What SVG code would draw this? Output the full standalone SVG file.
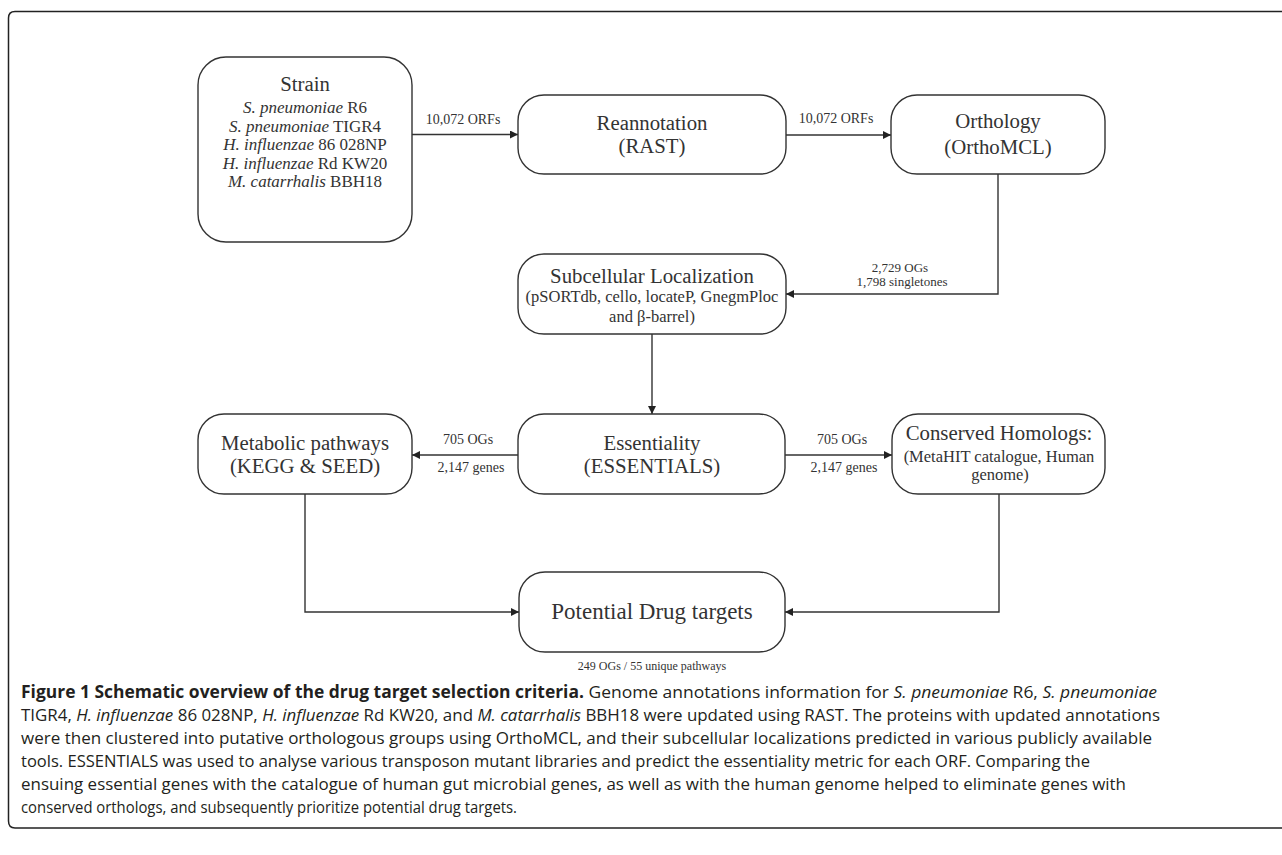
<svg xmlns="http://www.w3.org/2000/svg" width="1282" height="855" viewBox="0 0 1282 855">
<defs>
<style>
.box{fill:#fff;stroke:#333;stroke-width:1.4}
.t{font-family:"Liberation Serif","Times New Roman",serif;fill:#333;text-anchor:middle}
.h{font-size:20.8px}
.s{font-size:16.5px}
.st{font-size:17px}
.l{font-size:14px}
.lo{font-size:13px}
.sm{font-size:12px}
.c{stroke:#333;stroke-width:1.4;fill:none}
.cap{font-family:"Open Sans","Noto Sans","Liberation Sans",sans-serif;font-size:17px;fill:#231f20}
</style>
<marker id="ah" viewBox="0 0 10 10" refX="10" refY="5" markerWidth="8" markerHeight="8" markerUnits="userSpaceOnUse" orient="auto">
<path d="M0,0 L10,5 L0,10 z" fill="#222"/>
</marker>
</defs>
<rect width="1282" height="855" fill="#fff"/>
<path d="M1290 11.5 H15 Q8.5 11.5 8.5 18 V821 Q8.5 828 15 828 H1290" fill="none" stroke="#222" stroke-width="1.5"/>

<g id="connectors">
<line class="c" x1="412" y1="134.5" x2="518" y2="134.5" marker-end="url(#ah)"/>
<line class="c" x1="786" y1="135" x2="891" y2="135" marker-end="url(#ah)"/>
<polyline class="c" points="998,174 998,294 786,294" marker-end="url(#ah)"/>
<line class="c" x1="652" y1="334" x2="652" y2="414" marker-end="url(#ah)"/>
<line class="c" x1="518" y1="455" x2="412" y2="455" marker-end="url(#ah)"/>
<line class="c" x1="785" y1="455" x2="892" y2="455" marker-end="url(#ah)"/>
<polyline class="c" points="305,494 305,612 519,612" marker-end="url(#ah)"/>
<polyline class="c" points="999,494 999,612 785,612" marker-end="url(#ah)"/>
<text class="t l" x="463" y="124">10,072 ORFs</text>
<text class="t l" x="836" y="123">10,072 ORFs</text>
<text class="t lo" x="900" y="272">2,729 OGs</text>
<text class="t lo" x="902" y="286">1,798 singletones</text>
<text class="t l" x="468" y="444">705 OGs</text>
<text class="t l" x="471" y="472">2,147 genes</text>
<text class="t l" x="842" y="444">705 OGs</text>
<text class="t l" x="844" y="472">2,147 genes</text>
</g>

<g id="strain">
<rect class="box" x="198" y="57" width="214" height="185" rx="28"/>
<text class="t h" x="305" y="91">Strain</text>
<text class="t st" x="305" y="113"><tspan font-style="italic">S. pneumoniae</tspan> R6</text>
<text class="t st" x="305" y="131.5"><tspan font-style="italic">S. pneumoniae</tspan> TIGR4</text>
<text class="t st" x="305" y="150"><tspan font-style="italic">H. influenzae</tspan> 86 028NP</text>
<text class="t st" x="305" y="168.5"><tspan font-style="italic">H. influenzae</tspan> Rd KW20</text>
<text class="t st" x="305" y="187"><tspan font-style="italic">M. catarrhalis</tspan> BBH18</text>
</g>

<g id="reannotation">
<rect class="box" x="518" y="95" width="268" height="79" rx="26"/>
<text class="t h" x="652" y="130">Reannotation</text>
<text class="t h" x="652" y="153">(RAST)</text>
</g>

<g id="orthology">
<rect class="box" x="891" y="95" width="214" height="79" rx="26"/>
<text class="t h" x="998" y="128">Orthology</text>
<text class="t h" x="998" y="154">(OrthoMCL)</text>
</g>

<g id="subcellular">
<rect class="box" x="518" y="254" width="268" height="80" rx="26"/>
<text class="t h" x="652" y="283">Subcellular Localization</text>
<text class="t s" x="652" y="302">(pSORTdb, cello, locateP, GnegmPloc</text>
<text class="t s" x="652" y="322">and β-barrel)</text>
</g>

<g id="essentiality">
<rect class="box" x="518" y="414" width="267" height="80" rx="26"/>
<text class="t h" x="652" y="450">Essentiality</text>
<text class="t h" x="652" y="473">(ESSENTIALS)</text>
</g>

<g id="metabolic">
<rect class="box" x="198" y="414" width="214" height="80" rx="26"/>
<text class="t h" x="305" y="450">Metabolic pathways</text>
<text class="t h" x="305" y="473">(KEGG &amp; SEED)</text>
</g>

<g id="conserved">
<rect class="box" x="892" y="414" width="213" height="80" rx="26"/>
<text class="t h" x="999" y="440">Conserved Homologs:</text>
<text class="t s" x="999" y="462">(MetaHIT catalogue, Human</text>
<text class="t s" x="1000" y="480">genome)</text>
</g>

<g id="targets">
<rect class="box" x="519" y="572" width="266" height="80" rx="26"/>
<text class="t" font-size="23" x="652" y="619">Potential Drug targets</text>
<text class="t sm" x="652" y="670">249 OGs / 55 unique pathways</text>
</g>

<g id="caption">
<text class="cap" x="21" y="698" textLength="1136" lengthAdjust="spacingAndGlyphs"><tspan font-weight="bold">Figure 1 Schematic overview of the drug target selection criteria.</tspan> Genome annotations information for <tspan font-style="italic">S. pneumoniae</tspan> R6, <tspan font-style="italic">S. pneumoniae</tspan></text>
<text class="cap" x="21" y="721" textLength="1139" lengthAdjust="spacingAndGlyphs">TIGR4, <tspan font-style="italic">H. influenzae</tspan> 86 028NP, <tspan font-style="italic">H. influenzae</tspan> Rd KW20, and <tspan font-style="italic">M. catarrhalis</tspan> BBH18 were updated using RAST. The proteins with updated annotations</text>
<text class="cap" x="21" y="744" textLength="1131" lengthAdjust="spacingAndGlyphs">were then clustered into putative orthologous groups using OrthoMCL, and their subcellular localizations predicted in various publicly available</text>
<text class="cap" x="21" y="767" textLength="1069" lengthAdjust="spacingAndGlyphs">tools. ESSENTIALS was used to analyse various transposon mutant libraries and predict the essentiality metric for each ORF. Comparing the</text>
<text class="cap" x="21" y="790" textLength="1105" lengthAdjust="spacingAndGlyphs">ensuing essential genes with the catalogue of human gut microbial genes, as well as with the human genome helped to eliminate genes with</text>
<text class="cap" x="21" y="813" textLength="496" lengthAdjust="spacingAndGlyphs">conserved orthologs, and subsequently prioritize potential drug targets.</text>
</g>
</svg>
